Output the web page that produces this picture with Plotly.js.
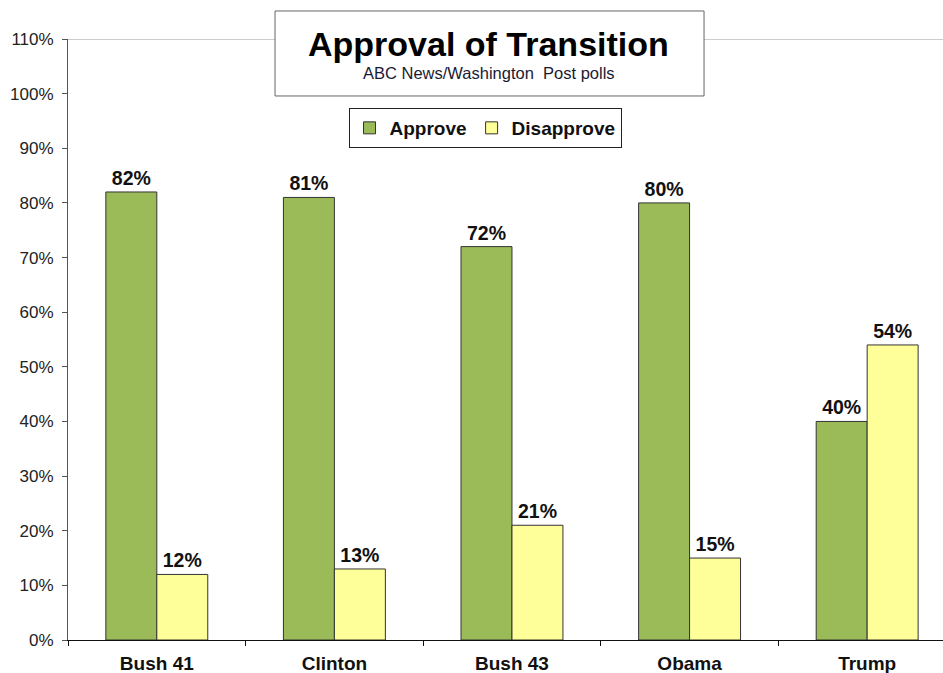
<!DOCTYPE html>
<html>
<head>
<meta charset="utf-8">
<script src="https://cdn.plot.ly/plotly-3.0.1.min.js"></script>
<style>
  body { margin: 0; background: #fff; }
  #chart { width: 943px; height: 673px; }
</style>
</head>
<body>
<div id="chart"></div>
<script>
var presidents = ['Bush 41', 'Clinton', 'Bush 43', 'Obama', 'Trump'];
var approve = [82, 81, 72, 80, 40];
var disapprove = [12, 13, 21, 15, 54];

var font = 'Arial, "Liberation Sans", sans-serif';

function pct(v) { return v + '%'; }

var data = [{
  type: 'bar',
  name: 'Approve',
  x: presidents,
  y: approve,
  text: approve.map(pct),
  marker: {color: '#9BBB59', line: {color: '#333', width: 1}},
  textposition: 'outside',
  textfont: {family: font, size: 19.5, color: '#111', weight: 'bold'},
  cliponaxis: false,
  hoverinfo: 'none'
}, {
  type: 'bar',
  name: 'Disapprove',
  x: presidents,
  y: disapprove,
  text: disapprove.map(pct),
  marker: {color: '#FFFF99', line: {color: '#333', width: 1}},
  textposition: 'outside',
  textfont: {family: font, size: 19.5, color: '#111', weight: 'bold'},
  cliponaxis: false,
  hoverinfo: 'none'
}];

// plot area: x 68..943, y 39..640 (pixels)
var layout = {
  width: 943,
  height: 673,
  margin: {l: 68, r: 0, t: 39, b: 33},
  paper_bgcolor: '#fff',
  plot_bgcolor: '#fff',
  font: {family: font, color: '#222'},
  barmode: 'group',
  bargap: 0.426,
  bargroupgap: 0,
  showlegend: true,
  legend: {
    orientation: 'h',
    x: 0.4766, xanchor: 'center',
    y: 0.8852, yanchor: 'top',
    bgcolor: '#fff',
    bordercolor: '#222',
    borderwidth: 1,
    font: {family: font, size: 19, color: '#111', weight: 'bold'}
  },
  xaxis: {
    range: [-0.5, 4.427],
    showline: true,
    linecolor: '#111',
    linewidth: 1,
    ticks: 'outside',
    tickson: 'boundaries',
    ticklen: 5,
    tickcolor: '#111',
    ticklabelstandoff: 6,
    tickfont: {family: font, size: 19, color: '#111', weight: 'bold'},
    showgrid: false,
    zeroline: false
  },
  yaxis: {
    range: [0, 110],
    dtick: 10,
    ticksuffix: '%',
    showline: true,
    linecolor: '#555',
    linewidth: 1,
    ticks: 'outside',
    ticklen: 5,
    tickcolor: '#555',
    ticklabelstandoff: 5,
    tickfont: {family: font, size: 17, color: '#222'},
    showgrid: false,
    zeroline: false
  },
  shapes: [{
    type: 'line', xref: 'paper', yref: 'y',
    x0: 0, x1: 1, y0: 110, y1: 110,
    line: {color: '#999', width: 1},
    layer: 'below'
  }, {
    type: 'rect', xref: 'paper', yref: 'paper',
    x0: 0.2366, x1: 0.7269, y0: 0.9052, y1: 1.0466,
    fillcolor: '#fff',
    line: {color: '#666', width: 1},
    layer: 'above'
  }],
  annotations: [{
    xref: 'paper', yref: 'paper',
    x: 0.4811, y: 0.9917, yanchor: 'middle',
    text: 'Approval of Transition',
    showarrow: false,
    font: {family: font, size: 34, color: '#000', weight: 'bold'}
  }, {
    xref: 'paper', yref: 'paper',
    x: 0.4811, y: 0.9434, yanchor: 'middle',
    text: 'ABC News/Washington&nbsp;&nbsp;Post polls',
    showarrow: false,
    font: {family: font, size: 16.5, color: '#1a1a33'}
  }]
};

Plotly.newPlot('chart', data, layout, {displayModeBar: false, staticPlot: true});
</script>
</body>
</html>
